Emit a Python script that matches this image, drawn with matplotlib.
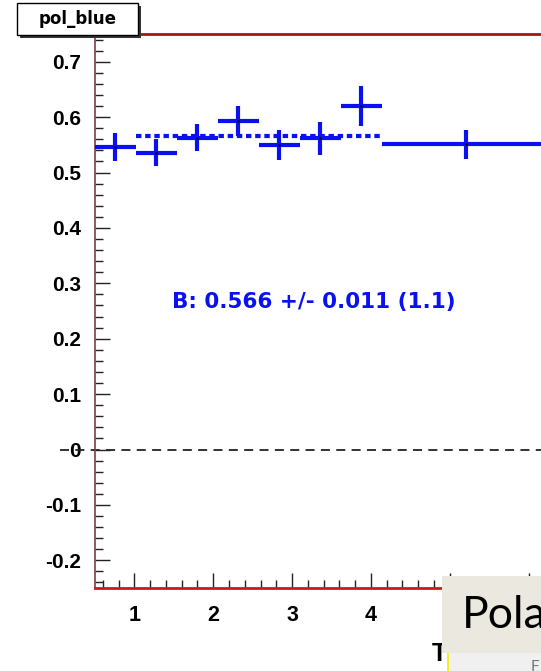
"""
pol_blue polarization vs bin, ROOT-style panel (cropped)
"""

import matplotlib
matplotlib.use('Agg')

import matplotlib.pyplot as plt
from matplotlib.patches import Rectangle
from matplotlib.ticker import MultipleLocator
import numpy as np

plt.rcParams['font.family'] = ['Liberation Sans', 'DejaVu Sans']

# Data
bin_edges = np.array([0.5, 1.02, 1.54, 2.06, 2.58, 3.10, 3.62, 4.14, 6.26])
pol = np.array([0.546, 0.536, 0.563, 0.593, 0.549, 0.562, 0.620, 0.551])
pol_err = np.array([0.026, 0.024, 0.024, 0.027, 0.027, 0.030, 0.036, 0.026])

fit_value = 0.566
fit_err = 0.011
fit_chi2 = 1.1
fit_first_bin, fit_last_bin = 1, 6

W, H = 541, 671
fig = plt.figure(figsize=(W / 100, H / 100), dpi=100)

# axes in pixel units (extends past the right edge, as in the crop)
ax_left, ax_bottom, ax_w, ax_h = 95, 83, 473, 554
ax = fig.add_axes([ax_left / W, ax_bottom / H, ax_w / W, ax_h / H])
ax.set_xlim(0.5, 6.5)
ax.set_ylim(-0.25, 0.75)

x_c = (bin_edges[:-1] + bin_edges[1:]) / 2
x_lo = x_c - bin_edges[:-1]
x_hi = bin_edges[1:] - x_c

blue = '#0a10f0'
ax.errorbar(x_c, pol, xerr=[x_lo, x_hi], yerr=pol_err, fmt='none',
            ecolor=blue, elinewidth=3.0, capsize=0, zorder=4)
ax.plot(x_c, pol, 'k.', markersize=1.5, zorder=5)

# fit line (dotted)
ax.plot([bin_edges[fit_first_bin], bin_edges[fit_last_bin + 1]], [fit_value, fit_value],
        color=blue, linewidth=3.0, linestyle=(0, (1.3, 0.9)), zorder=3)

# zero line, extends to the left past the axis
ax.plot([0.055, 6.5], [0, 0], color='#222222', linewidth=1.3,
        linestyle=(0, (5, 3.5)), clip_on=False, zorder=2)

ax.text(1.475, 0.266, f'B: {fit_value:.3f} +/- {fit_err:.3f} ({fit_chi2:.1f})',
        color=blue, fontsize=15.5, fontweight='bold', va='center', ha='left',
        family='DejaVu Sans')

# ROOT-like ticks
ax.xaxis.set_major_locator(MultipleLocator(1))
ax.xaxis.set_minor_locator(MultipleLocator(0.2))
ax.yaxis.set_major_locator(MultipleLocator(0.1))
ax.yaxis.set_minor_locator(MultipleLocator(0.02))
ax.tick_params(axis='both', which='both', direction='in', color='#222222', width=1.0)
ax.tick_params(axis='x', which='major', length=11, pad=12, labelsize=15.5)
ax.tick_params(axis='x', which='minor', length=6)
ax.tick_params(axis='y', which='major', length=11, pad=10, labelsize=15)
ax.tick_params(axis='y', which='minor', length=6)
ax.tick_params(top=False, right=False, which='both')
for lab in ax.get_xticklabels() + ax.get_yticklabels():
    lab.set_fontweight('bold')

ax.yaxis.set_major_formatter(matplotlib.ticker.FuncFormatter(
    lambda v, p: '0' if abs(v) < 1e-9 else f'{v:.1f}'))

ax.spines['left'].set_color('#7a3f3f')
ax.spines['left'].set_linewidth(1.2)
ax.spines['bottom'].set_color('#d01818')
ax.spines['bottom'].set_linewidth(2.0)
ax.spines['top'].set_color('#a01818')
ax.spines['top'].set_linewidth(2.0)
ax.spines['right'].set_visible(False)


def px_rect(x0, y0, x1, y1, **kw):
    # rectangle given in image pixels (y down)
    r = Rectangle((x0 / W, 1 - y1 / H), (x1 - x0) / W, (y1 - y0) / H,
                  transform=fig.transFigure, **kw)
    fig.add_artist(r)
    return r


# title box with shadow
px_rect(20, 6, 141, 38, facecolor='#333333', edgecolor='none', zorder=10)
px_rect(17, 3, 138, 35, facecolor='white', edgecolor='black', linewidth=1.0, zorder=11)
fig.text(77.5 / W, 1 - 19.5 / H, 'pol_blue', ha='center', va='center',
         fontsize=12, fontweight='bold', family='DejaVu Sans', zorder=12)

# cropped x-axis title
fig.text(432 / W, 1 - 654 / H, 'T', ha='left', va='center',
         fontsize=18, fontweight='bold', zorder=5)

# overlay from the slide underneath
px_rect(448, 653, 541, 671, facecolor='#f0f0f0', edgecolor='none', zorder=20)
px_rect(446.5, 653, 449, 671, facecolor='#f5ee20', edgecolor='none', zorder=21)
fig.text(531 / W, 1 - 667 / H, 'F', ha='left', va='center', fontsize=11,
         color='#777777', family='Lato', zorder=22)
px_rect(442, 576, 541, 653, facecolor='#ebe9df', edgecolor='none', zorder=20)
fig.text(462 / W, 1 - 616 / H, 'Pola', ha='left', va='center', fontsize=32,
         color='black', family='Lato', zorder=22)

plt.savefig('out.png', dpi=100)
plt.close()
